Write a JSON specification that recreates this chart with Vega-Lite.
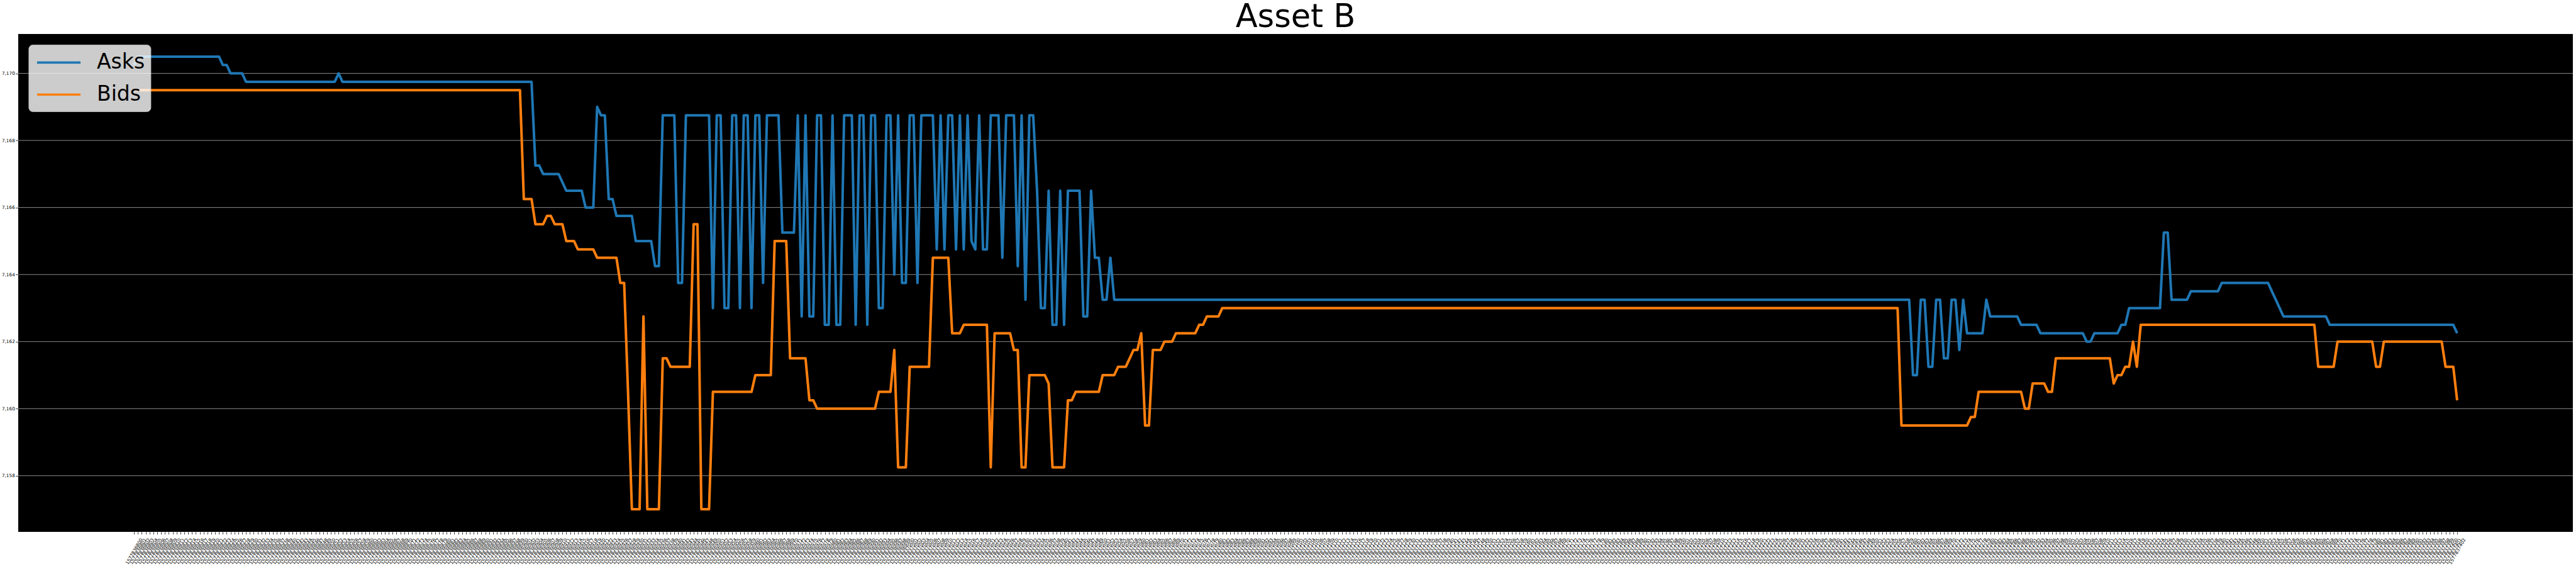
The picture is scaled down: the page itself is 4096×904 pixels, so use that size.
{
"$schema": "https://vega.github.io/schema/vega-lite/v6.json",
"width": 4062, "height": 791,
"autosize": {"type": "none"},
"padding": {"left": 29, "top": 54, "right": 5, "bottom": 59},
"background": "white",
"title": {"text": "Asset B", "fontSize": 51, "font": "DejaVu Sans", "fontWeight": "normal", "color": "black", "anchor": "middle", "frame": "group", "offset": 0},
"config": {"view": {"fill": "black", "stroke": null}},
"layer": [
{
"data": {"values": [{"g":7158},{"g":7160},{"g":7162},{"g":7164},{"g":7166},{"g":7168},{"g":7170}]},
"mark": {"type": "rule", "color": "#b0b0b0", "strokeWidth": 0.8},
"encoding": {"y": {"field": "g", "type": "quantitative", "scale": {"domain": [7156.325, 7171.175], "nice": false, "zero": false},
    "axis": {"title": null, "values": [7158, 7160, 7162, 7164, 7166, 7168, 7170], "grid": false, "domain": false, "tickColor": "black", "tickSize": 4.2, "tickWidth": 0.8, "labelFontSize": 7.3, "labelFont": "DejaVu Sans", "labelColor": "black", "labelPadding": 1.5}}}
},
{
"data": {"values": [
{"t":1577836800,"Asks":7170.25,"Bids":7169.5},
{"t":1577836801,"Asks":7170.5,"Bids":7169.5},{"t":1577836802,"Asks":7170.5,"Bids":7169.5},{"t":1577836803,"Asks":7170.5,"Bids":7169.5},{"t":1577836804,"Asks":7170.5,"Bids":7169.5},{"t":1577836805,"Asks":7170.5,"Bids":7169.5},{"t":1577836806,"Asks":7170.5,"Bids":7169.5},{"t":1577836807,"Asks":7170.5,"Bids":7169.5},{"t":1577836808,"Asks":7170.5,"Bids":7169.5},{"t":1577836809,"Asks":7170.5,"Bids":7169.5},{"t":1577836810,"Asks":7170.5,"Bids":7169.5},
{"t":1577836811,"Asks":7170.5,"Bids":7169.5},{"t":1577836812,"Asks":7170.5,"Bids":7169.5},{"t":1577836813,"Asks":7170.5,"Bids":7169.5},{"t":1577836814,"Asks":7170.5,"Bids":7169.5},{"t":1577836815,"Asks":7170.5,"Bids":7169.5},{"t":1577836816,"Asks":7170.5,"Bids":7169.5},{"t":1577836817,"Asks":7170.5,"Bids":7169.5},{"t":1577836818,"Asks":7170.5,"Bids":7169.5},{"t":1577836819,"Asks":7170.5,"Bids":7169.5},{"t":1577836820,"Asks":7170.5,"Bids":7169.5},
{"t":1577836821,"Asks":7170.5,"Bids":7169.5},{"t":1577836822,"Asks":7170.5,"Bids":7169.5},{"t":1577836823,"Asks":7170.25,"Bids":7169.5},{"t":1577836824,"Asks":7170.25,"Bids":7169.5},{"t":1577836825,"Asks":7170,"Bids":7169.5},{"t":1577836826,"Asks":7170,"Bids":7169.5},{"t":1577836827,"Asks":7170,"Bids":7169.5},{"t":1577836828,"Asks":7170,"Bids":7169.5},{"t":1577836829,"Asks":7169.75,"Bids":7169.5},{"t":1577836830,"Asks":7169.75,"Bids":7169.5},
{"t":1577836831,"Asks":7169.75,"Bids":7169.5},{"t":1577836832,"Asks":7169.75,"Bids":7169.5},{"t":1577836833,"Asks":7169.75,"Bids":7169.5},{"t":1577836834,"Asks":7169.75,"Bids":7169.5},{"t":1577836835,"Asks":7169.75,"Bids":7169.5},{"t":1577836836,"Asks":7169.75,"Bids":7169.5},{"t":1577836837,"Asks":7169.75,"Bids":7169.5},{"t":1577836838,"Asks":7169.75,"Bids":7169.5},{"t":1577836839,"Asks":7169.75,"Bids":7169.5},{"t":1577836840,"Asks":7169.75,"Bids":7169.5},
{"t":1577836841,"Asks":7169.75,"Bids":7169.5},{"t":1577836842,"Asks":7169.75,"Bids":7169.5},{"t":1577836843,"Asks":7169.75,"Bids":7169.5},{"t":1577836844,"Asks":7169.75,"Bids":7169.5},{"t":1577836845,"Asks":7169.75,"Bids":7169.5},{"t":1577836846,"Asks":7169.75,"Bids":7169.5},{"t":1577836847,"Asks":7169.75,"Bids":7169.5},{"t":1577836848,"Asks":7169.75,"Bids":7169.5},{"t":1577836849,"Asks":7169.75,"Bids":7169.5},{"t":1577836850,"Asks":7169.75,"Bids":7169.5},
{"t":1577836851,"Asks":7169.75,"Bids":7169.5},{"t":1577836852,"Asks":7169.75,"Bids":7169.5},{"t":1577836853,"Asks":7170,"Bids":7169.5},{"t":1577836854,"Asks":7169.75,"Bids":7169.5},{"t":1577836855,"Asks":7169.75,"Bids":7169.5},{"t":1577836856,"Asks":7169.75,"Bids":7169.5},{"t":1577836857,"Asks":7169.75,"Bids":7169.5},{"t":1577836858,"Asks":7169.75,"Bids":7169.5},{"t":1577836859,"Asks":7169.75,"Bids":7169.5},{"t":1577836860,"Asks":7169.75,"Bids":7169.5},
{"t":1577836861,"Asks":7169.75,"Bids":7169.5},{"t":1577836862,"Asks":7169.75,"Bids":7169.5},{"t":1577836863,"Asks":7169.75,"Bids":7169.5},{"t":1577836864,"Asks":7169.75,"Bids":7169.5},{"t":1577836865,"Asks":7169.75,"Bids":7169.5},{"t":1577836866,"Asks":7169.75,"Bids":7169.5},{"t":1577836867,"Asks":7169.75,"Bids":7169.5},{"t":1577836868,"Asks":7169.75,"Bids":7169.5},{"t":1577836869,"Asks":7169.75,"Bids":7169.5},{"t":1577836870,"Asks":7169.75,"Bids":7169.5},
{"t":1577836871,"Asks":7169.75,"Bids":7169.5},{"t":1577836872,"Asks":7169.75,"Bids":7169.5},{"t":1577836873,"Asks":7169.75,"Bids":7169.5},{"t":1577836874,"Asks":7169.75,"Bids":7169.5},{"t":1577836875,"Asks":7169.75,"Bids":7169.5},{"t":1577836876,"Asks":7169.75,"Bids":7169.5},{"t":1577836877,"Asks":7169.75,"Bids":7169.5},{"t":1577836878,"Asks":7169.75,"Bids":7169.5},{"t":1577836879,"Asks":7169.75,"Bids":7169.5},{"t":1577836880,"Asks":7169.75,"Bids":7169.5},
{"t":1577836881,"Asks":7169.75,"Bids":7169.5},{"t":1577836882,"Asks":7169.75,"Bids":7169.5},{"t":1577836883,"Asks":7169.75,"Bids":7169.5},{"t":1577836884,"Asks":7169.75,"Bids":7169.5},{"t":1577836885,"Asks":7169.75,"Bids":7169.5},{"t":1577836886,"Asks":7169.75,"Bids":7169.5},{"t":1577836887,"Asks":7169.75,"Bids":7169.5},{"t":1577836888,"Asks":7169.75,"Bids":7169.5},{"t":1577836889,"Asks":7169.75,"Bids":7169.5},{"t":1577836890,"Asks":7169.75,"Bids":7169.5},
{"t":1577836891,"Asks":7169.75,"Bids":7169.5},{"t":1577836892,"Asks":7169.75,"Bids":7169.5},{"t":1577836893,"Asks":7169.75,"Bids":7169.5},{"t":1577836894,"Asks":7169.75,"Bids":7169.5},{"t":1577836895,"Asks":7169.75,"Bids":7169.5},{"t":1577836896,"Asks":7169.75,"Bids":7169.5},{"t":1577836897,"Asks":7169.75,"Bids":7169.5},{"t":1577836898,"Asks":7169.75,"Bids":7169.5},{"t":1577836899,"Asks":7169.75,"Bids":7169.5},{"t":1577836900,"Asks":7169.75,"Bids":7169.5},
{"t":1577836901,"Asks":7169.75,"Bids":7166.25},{"t":1577836902,"Asks":7169.75,"Bids":7166.25},{"t":1577836903,"Asks":7169.75,"Bids":7166.25},{"t":1577836904,"Asks":7167.25,"Bids":7165.5},{"t":1577836905,"Asks":7167.25,"Bids":7165.5},{"t":1577836906,"Asks":7167,"Bids":7165.5},{"t":1577836907,"Asks":7167,"Bids":7165.75},{"t":1577836908,"Asks":7167,"Bids":7165.75},{"t":1577836909,"Asks":7167,"Bids":7165.5},{"t":1577836910,"Asks":7167,"Bids":7165.5},
{"t":1577836911,"Asks":7166.75,"Bids":7165.5},{"t":1577836912,"Asks":7166.5,"Bids":7165},{"t":1577836913,"Asks":7166.5,"Bids":7165},{"t":1577836914,"Asks":7166.5,"Bids":7165},{"t":1577836915,"Asks":7166.5,"Bids":7164.75},{"t":1577836916,"Asks":7166.5,"Bids":7164.75},{"t":1577836917,"Asks":7166,"Bids":7164.75},{"t":1577836918,"Asks":7166,"Bids":7164.75},{"t":1577836919,"Asks":7166,"Bids":7164.75},{"t":1577836920,"Asks":7169,"Bids":7164.5},
{"t":1577836921,"Asks":7168.75,"Bids":7164.5},{"t":1577836922,"Asks":7168.75,"Bids":7164.5},{"t":1577836923,"Asks":7166.25,"Bids":7164.5},{"t":1577836924,"Asks":7166.25,"Bids":7164.5},{"t":1577836925,"Asks":7165.75,"Bids":7164.5},{"t":1577836926,"Asks":7165.75,"Bids":7163.75},{"t":1577836927,"Asks":7165.75,"Bids":7163.75},{"t":1577836928,"Asks":7165.75,"Bids":7160.5},{"t":1577836929,"Asks":7165.75,"Bids":7157},{"t":1577836930,"Asks":7165,"Bids":7157},
{"t":1577836931,"Asks":7165,"Bids":7157},{"t":1577836932,"Asks":7165,"Bids":7162.75},{"t":1577836933,"Asks":7165,"Bids":7157},{"t":1577836934,"Asks":7165,"Bids":7157},{"t":1577836935,"Asks":7164.25,"Bids":7157},{"t":1577836936,"Asks":7164.25,"Bids":7157},{"t":1577836937,"Asks":7168.75,"Bids":7161.5},{"t":1577836938,"Asks":7168.75,"Bids":7161.5},{"t":1577836939,"Asks":7168.75,"Bids":7161.25},{"t":1577836940,"Asks":7168.75,"Bids":7161.25},
{"t":1577836941,"Asks":7163.75,"Bids":7161.25},{"t":1577836942,"Asks":7163.75,"Bids":7161.25},{"t":1577836943,"Asks":7168.75,"Bids":7161.25},{"t":1577836944,"Asks":7168.75,"Bids":7161.25},{"t":1577836945,"Asks":7168.75,"Bids":7165.5},{"t":1577836946,"Asks":7168.75,"Bids":7165.5},{"t":1577836947,"Asks":7168.75,"Bids":7157},{"t":1577836948,"Asks":7168.75,"Bids":7157},{"t":1577836949,"Asks":7168.75,"Bids":7157},{"t":1577836950,"Asks":7163,"Bids":7160.5},
{"t":1577836951,"Asks":7168.75,"Bids":7160.5},{"t":1577836952,"Asks":7168.75,"Bids":7160.5},{"t":1577836953,"Asks":7163,"Bids":7160.5},{"t":1577836954,"Asks":7163,"Bids":7160.5},{"t":1577836955,"Asks":7168.75,"Bids":7160.5},{"t":1577836956,"Asks":7168.75,"Bids":7160.5},{"t":1577836957,"Asks":7163,"Bids":7160.5},{"t":1577836958,"Asks":7168.75,"Bids":7160.5},{"t":1577836959,"Asks":7168.75,"Bids":7160.5},{"t":1577836960,"Asks":7163,"Bids":7160.5},
{"t":1577836961,"Asks":7168.75,"Bids":7161},{"t":1577836962,"Asks":7168.75,"Bids":7161},{"t":1577836963,"Asks":7163.75,"Bids":7161},{"t":1577836964,"Asks":7168.75,"Bids":7161},{"t":1577836965,"Asks":7168.75,"Bids":7161},{"t":1577836966,"Asks":7168.75,"Bids":7165},{"t":1577836967,"Asks":7168.75,"Bids":7165},{"t":1577836968,"Asks":7165.25,"Bids":7165},{"t":1577836969,"Asks":7165.25,"Bids":7165},{"t":1577836970,"Asks":7165.25,"Bids":7161.5},
{"t":1577836971,"Asks":7165.25,"Bids":7161.5},{"t":1577836972,"Asks":7168.75,"Bids":7161.5},{"t":1577836973,"Asks":7162.75,"Bids":7161.5},{"t":1577836974,"Asks":7168.75,"Bids":7161.5},{"t":1577836975,"Asks":7162.75,"Bids":7160.25},{"t":1577836976,"Asks":7162.75,"Bids":7160.25},{"t":1577836977,"Asks":7168.75,"Bids":7160},{"t":1577836978,"Asks":7168.75,"Bids":7160},{"t":1577836979,"Asks":7162.5,"Bids":7160},{"t":1577836980,"Asks":7162.5,"Bids":7160},
{"t":1577836981,"Asks":7168.75,"Bids":7160},{"t":1577836982,"Asks":7162.5,"Bids":7160},{"t":1577836983,"Asks":7162.5,"Bids":7160},{"t":1577836984,"Asks":7168.75,"Bids":7160},{"t":1577836985,"Asks":7168.75,"Bids":7160},{"t":1577836986,"Asks":7168.75,"Bids":7160},{"t":1577836987,"Asks":7162.5,"Bids":7160},{"t":1577836988,"Asks":7168.75,"Bids":7160},{"t":1577836989,"Asks":7168.75,"Bids":7160},{"t":1577836990,"Asks":7162.5,"Bids":7160},
{"t":1577836991,"Asks":7168.75,"Bids":7160},{"t":1577836992,"Asks":7168.75,"Bids":7160},{"t":1577836993,"Asks":7163,"Bids":7160.5},{"t":1577836994,"Asks":7163,"Bids":7160.5},{"t":1577836995,"Asks":7168.75,"Bids":7160.5},{"t":1577836996,"Asks":7168.75,"Bids":7160.5},{"t":1577836997,"Asks":7164,"Bids":7161.75},{"t":1577836998,"Asks":7168.75,"Bids":7158.25},{"t":1577836999,"Asks":7163.75,"Bids":7158.25},{"t":1577837000,"Asks":7163.75,"Bids":7158.25},
{"t":1577837001,"Asks":7168.75,"Bids":7161.25},{"t":1577837002,"Asks":7168.75,"Bids":7161.25},{"t":1577837003,"Asks":7163.75,"Bids":7161.25},{"t":1577837004,"Asks":7168.75,"Bids":7161.25},{"t":1577837005,"Asks":7168.75,"Bids":7161.25},{"t":1577837006,"Asks":7168.75,"Bids":7161.25},{"t":1577837007,"Asks":7168.75,"Bids":7164.5},{"t":1577837008,"Asks":7164.75,"Bids":7164.5},{"t":1577837009,"Asks":7168.75,"Bids":7164.5},{"t":1577837010,"Asks":7164.75,"Bids":7164.5},
{"t":1577837011,"Asks":7168.75,"Bids":7164.5},{"t":1577837012,"Asks":7168.75,"Bids":7162.25},{"t":1577837013,"Asks":7164.75,"Bids":7162.25},{"t":1577837014,"Asks":7168.75,"Bids":7162.25},{"t":1577837015,"Asks":7164.75,"Bids":7162.5},{"t":1577837016,"Asks":7168.75,"Bids":7162.5},{"t":1577837017,"Asks":7165,"Bids":7162.5},{"t":1577837018,"Asks":7164.75,"Bids":7162.5},{"t":1577837019,"Asks":7168.75,"Bids":7162.5},{"t":1577837020,"Asks":7164.75,"Bids":7162.5},
{"t":1577837021,"Asks":7164.75,"Bids":7162.5},{"t":1577837022,"Asks":7168.75,"Bids":7158.25},{"t":1577837023,"Asks":7168.75,"Bids":7162.25},{"t":1577837024,"Asks":7168.75,"Bids":7162.25},{"t":1577837025,"Asks":7164.5,"Bids":7162.25},{"t":1577837026,"Asks":7168.75,"Bids":7162.25},{"t":1577837027,"Asks":7168.75,"Bids":7162.25},{"t":1577837028,"Asks":7168.75,"Bids":7161.75},{"t":1577837029,"Asks":7164.25,"Bids":7161.75},{"t":1577837030,"Asks":7168.75,"Bids":7158.25},
{"t":1577837031,"Asks":7163.25,"Bids":7158.25},{"t":1577837032,"Asks":7168.75,"Bids":7161},{"t":1577837033,"Asks":7168.75,"Bids":7161},{"t":1577837034,"Asks":7166.5,"Bids":7161},{"t":1577837035,"Asks":7163,"Bids":7161},{"t":1577837036,"Asks":7163,"Bids":7161},{"t":1577837037,"Asks":7166.5,"Bids":7160.75},{"t":1577837038,"Asks":7162.5,"Bids":7158.25},{"t":1577837039,"Asks":7162.5,"Bids":7158.25},{"t":1577837040,"Asks":7166.5,"Bids":7158.25},
{"t":1577837041,"Asks":7162.5,"Bids":7158.25},{"t":1577837042,"Asks":7166.5,"Bids":7160.25},{"t":1577837043,"Asks":7166.5,"Bids":7160.25},{"t":1577837044,"Asks":7166.5,"Bids":7160.5},{"t":1577837045,"Asks":7166.5,"Bids":7160.5},{"t":1577837046,"Asks":7162.75,"Bids":7160.5},{"t":1577837047,"Asks":7162.75,"Bids":7160.5},{"t":1577837048,"Asks":7166.5,"Bids":7160.5},{"t":1577837049,"Asks":7164.5,"Bids":7160.5},{"t":1577837050,"Asks":7164.5,"Bids":7160.5},
{"t":1577837051,"Asks":7163.25,"Bids":7161},{"t":1577837052,"Asks":7163.25,"Bids":7161},{"t":1577837053,"Asks":7164.5,"Bids":7161},{"t":1577837054,"Asks":7163.25,"Bids":7161},{"t":1577837055,"Asks":7163.25,"Bids":7161.25},{"t":1577837056,"Asks":7163.25,"Bids":7161.25},{"t":1577837057,"Asks":7163.25,"Bids":7161.25},{"t":1577837058,"Asks":7163.25,"Bids":7161.5},{"t":1577837059,"Asks":7163.25,"Bids":7161.75},{"t":1577837060,"Asks":7163.25,"Bids":7161.75},
{"t":1577837061,"Asks":7163.25,"Bids":7162.25},{"t":1577837062,"Asks":7163.25,"Bids":7159.5},{"t":1577837063,"Asks":7163.25,"Bids":7159.5},{"t":1577837064,"Asks":7163.25,"Bids":7161.75},{"t":1577837065,"Asks":7163.25,"Bids":7161.75},{"t":1577837066,"Asks":7163.25,"Bids":7161.75},{"t":1577837067,"Asks":7163.25,"Bids":7162},{"t":1577837068,"Asks":7163.25,"Bids":7162},{"t":1577837069,"Asks":7163.25,"Bids":7162},{"t":1577837070,"Asks":7163.25,"Bids":7162.25},
{"t":1577837071,"Asks":7163.25,"Bids":7162.25},{"t":1577837072,"Asks":7163.25,"Bids":7162.25},{"t":1577837073,"Asks":7163.25,"Bids":7162.25},{"t":1577837074,"Asks":7163.25,"Bids":7162.25},{"t":1577837075,"Asks":7163.25,"Bids":7162.25},{"t":1577837076,"Asks":7163.25,"Bids":7162.5},{"t":1577837077,"Asks":7163.25,"Bids":7162.5},{"t":1577837078,"Asks":7163.25,"Bids":7162.75},{"t":1577837079,"Asks":7163.25,"Bids":7162.75},{"t":1577837080,"Asks":7163.25,"Bids":7162.75},
{"t":1577837081,"Asks":7163.25,"Bids":7162.75},{"t":1577837082,"Asks":7163.25,"Bids":7163},{"t":1577837083,"Asks":7163.25,"Bids":7163},{"t":1577837084,"Asks":7163.25,"Bids":7163},{"t":1577837085,"Asks":7163.25,"Bids":7163},{"t":1577837086,"Asks":7163.25,"Bids":7163},{"t":1577837087,"Asks":7163.25,"Bids":7163},{"t":1577837088,"Asks":7163.25,"Bids":7163},{"t":1577837089,"Asks":7163.25,"Bids":7163},{"t":1577837090,"Asks":7163.25,"Bids":7163},
{"t":1577837091,"Asks":7163.25,"Bids":7163},{"t":1577837092,"Asks":7163.25,"Bids":7163},{"t":1577837093,"Asks":7163.25,"Bids":7163},{"t":1577837094,"Asks":7163.25,"Bids":7163},{"t":1577837095,"Asks":7163.25,"Bids":7163},{"t":1577837096,"Asks":7163.25,"Bids":7163},{"t":1577837097,"Asks":7163.25,"Bids":7163},{"t":1577837098,"Asks":7163.25,"Bids":7163},{"t":1577837099,"Asks":7163.25,"Bids":7163},{"t":1577837100,"Asks":7163.25,"Bids":7163},
{"t":1577837101,"Asks":7163.25,"Bids":7163},{"t":1577837102,"Asks":7163.25,"Bids":7163},{"t":1577837103,"Asks":7163.25,"Bids":7163},{"t":1577837104,"Asks":7163.25,"Bids":7163},{"t":1577837105,"Asks":7163.25,"Bids":7163},{"t":1577837106,"Asks":7163.25,"Bids":7163},{"t":1577837107,"Asks":7163.25,"Bids":7163},{"t":1577837108,"Asks":7163.25,"Bids":7163},{"t":1577837109,"Asks":7163.25,"Bids":7163},{"t":1577837110,"Asks":7163.25,"Bids":7163},
{"t":1577837111,"Asks":7163.25,"Bids":7163},{"t":1577837112,"Asks":7163.25,"Bids":7163},{"t":1577837113,"Asks":7163.25,"Bids":7163},{"t":1577837114,"Asks":7163.25,"Bids":7163},{"t":1577837115,"Asks":7163.25,"Bids":7163},{"t":1577837116,"Asks":7163.25,"Bids":7163},{"t":1577837117,"Asks":7163.25,"Bids":7163},{"t":1577837118,"Asks":7163.25,"Bids":7163},{"t":1577837119,"Asks":7163.25,"Bids":7163},{"t":1577837120,"Asks":7163.25,"Bids":7163},
{"t":1577837121,"Asks":7163.25,"Bids":7163},{"t":1577837122,"Asks":7163.25,"Bids":7163},{"t":1577837123,"Asks":7163.25,"Bids":7163},{"t":1577837124,"Asks":7163.25,"Bids":7163},{"t":1577837125,"Asks":7163.25,"Bids":7163},{"t":1577837126,"Asks":7163.25,"Bids":7163},{"t":1577837127,"Asks":7163.25,"Bids":7163},{"t":1577837128,"Asks":7163.25,"Bids":7163},{"t":1577837129,"Asks":7163.25,"Bids":7163},{"t":1577837130,"Asks":7163.25,"Bids":7163},
{"t":1577837131,"Asks":7163.25,"Bids":7163},{"t":1577837132,"Asks":7163.25,"Bids":7163},{"t":1577837133,"Asks":7163.25,"Bids":7163},{"t":1577837134,"Asks":7163.25,"Bids":7163},{"t":1577837135,"Asks":7163.25,"Bids":7163},{"t":1577837136,"Asks":7163.25,"Bids":7163},{"t":1577837137,"Asks":7163.25,"Bids":7163},{"t":1577837138,"Asks":7163.25,"Bids":7163},{"t":1577837139,"Asks":7163.25,"Bids":7163},{"t":1577837140,"Asks":7163.25,"Bids":7163},
{"t":1577837141,"Asks":7163.25,"Bids":7163},{"t":1577837142,"Asks":7163.25,"Bids":7163},{"t":1577837143,"Asks":7163.25,"Bids":7163},{"t":1577837144,"Asks":7163.25,"Bids":7163},{"t":1577837145,"Asks":7163.25,"Bids":7163},{"t":1577837146,"Asks":7163.25,"Bids":7163},{"t":1577837147,"Asks":7163.25,"Bids":7163},{"t":1577837148,"Asks":7163.25,"Bids":7163},{"t":1577837149,"Asks":7163.25,"Bids":7163},{"t":1577837150,"Asks":7163.25,"Bids":7163},
{"t":1577837151,"Asks":7163.25,"Bids":7163},{"t":1577837152,"Asks":7163.25,"Bids":7163},{"t":1577837153,"Asks":7163.25,"Bids":7163},{"t":1577837154,"Asks":7163.25,"Bids":7163},{"t":1577837155,"Asks":7163.25,"Bids":7163},{"t":1577837156,"Asks":7163.25,"Bids":7163},{"t":1577837157,"Asks":7163.25,"Bids":7163},{"t":1577837158,"Asks":7163.25,"Bids":7163},{"t":1577837159,"Asks":7163.25,"Bids":7163},{"t":1577837160,"Asks":7163.25,"Bids":7163},
{"t":1577837161,"Asks":7163.25,"Bids":7163},{"t":1577837162,"Asks":7163.25,"Bids":7163},{"t":1577837163,"Asks":7163.25,"Bids":7163},{"t":1577837164,"Asks":7163.25,"Bids":7163},{"t":1577837165,"Asks":7163.25,"Bids":7163},{"t":1577837166,"Asks":7163.25,"Bids":7163},{"t":1577837167,"Asks":7163.25,"Bids":7163},{"t":1577837168,"Asks":7163.25,"Bids":7163},{"t":1577837169,"Asks":7163.25,"Bids":7163},{"t":1577837170,"Asks":7163.25,"Bids":7163},
{"t":1577837171,"Asks":7163.25,"Bids":7163},{"t":1577837172,"Asks":7163.25,"Bids":7163},{"t":1577837173,"Asks":7163.25,"Bids":7163},{"t":1577837174,"Asks":7163.25,"Bids":7163},{"t":1577837175,"Asks":7163.25,"Bids":7163},{"t":1577837176,"Asks":7163.25,"Bids":7163},{"t":1577837177,"Asks":7163.25,"Bids":7163},{"t":1577837178,"Asks":7163.25,"Bids":7163},{"t":1577837179,"Asks":7163.25,"Bids":7163},{"t":1577837180,"Asks":7163.25,"Bids":7163},
{"t":1577837181,"Asks":7163.25,"Bids":7163},{"t":1577837182,"Asks":7163.25,"Bids":7163},{"t":1577837183,"Asks":7163.25,"Bids":7163},{"t":1577837184,"Asks":7163.25,"Bids":7163},{"t":1577837185,"Asks":7163.25,"Bids":7163},{"t":1577837186,"Asks":7163.25,"Bids":7163},{"t":1577837187,"Asks":7163.25,"Bids":7163},{"t":1577837188,"Asks":7163.25,"Bids":7163},{"t":1577837189,"Asks":7163.25,"Bids":7163},{"t":1577837190,"Asks":7163.25,"Bids":7163},
{"t":1577837191,"Asks":7163.25,"Bids":7163},{"t":1577837192,"Asks":7163.25,"Bids":7163},{"t":1577837193,"Asks":7163.25,"Bids":7163},{"t":1577837194,"Asks":7163.25,"Bids":7163},{"t":1577837195,"Asks":7163.25,"Bids":7163},{"t":1577837196,"Asks":7163.25,"Bids":7163},{"t":1577837197,"Asks":7163.25,"Bids":7163},{"t":1577837198,"Asks":7163.25,"Bids":7163},{"t":1577837199,"Asks":7163.25,"Bids":7163},{"t":1577837200,"Asks":7163.25,"Bids":7163},
{"t":1577837201,"Asks":7163.25,"Bids":7163},{"t":1577837202,"Asks":7163.25,"Bids":7163},{"t":1577837203,"Asks":7163.25,"Bids":7163},{"t":1577837204,"Asks":7163.25,"Bids":7163},{"t":1577837205,"Asks":7163.25,"Bids":7163},{"t":1577837206,"Asks":7163.25,"Bids":7163},{"t":1577837207,"Asks":7163.25,"Bids":7163},{"t":1577837208,"Asks":7163.25,"Bids":7163},{"t":1577837209,"Asks":7163.25,"Bids":7163},{"t":1577837210,"Asks":7163.25,"Bids":7163},
{"t":1577837211,"Asks":7163.25,"Bids":7163},{"t":1577837212,"Asks":7163.25,"Bids":7163},{"t":1577837213,"Asks":7163.25,"Bids":7163},{"t":1577837214,"Asks":7163.25,"Bids":7163},{"t":1577837215,"Asks":7163.25,"Bids":7163},{"t":1577837216,"Asks":7163.25,"Bids":7163},{"t":1577837217,"Asks":7163.25,"Bids":7163},{"t":1577837218,"Asks":7163.25,"Bids":7163},{"t":1577837219,"Asks":7163.25,"Bids":7163},{"t":1577837220,"Asks":7163.25,"Bids":7163},
{"t":1577837221,"Asks":7163.25,"Bids":7163},{"t":1577837222,"Asks":7163.25,"Bids":7163},{"t":1577837223,"Asks":7163.25,"Bids":7163},{"t":1577837224,"Asks":7163.25,"Bids":7163},{"t":1577837225,"Asks":7163.25,"Bids":7163},{"t":1577837226,"Asks":7163.25,"Bids":7163},{"t":1577837227,"Asks":7163.25,"Bids":7163},{"t":1577837228,"Asks":7163.25,"Bids":7163},{"t":1577837229,"Asks":7163.25,"Bids":7163},{"t":1577837230,"Asks":7163.25,"Bids":7163},
{"t":1577837231,"Asks":7163.25,"Bids":7163},{"t":1577837232,"Asks":7163.25,"Bids":7163},{"t":1577837233,"Asks":7163.25,"Bids":7163},{"t":1577837234,"Asks":7163.25,"Bids":7163},{"t":1577837235,"Asks":7163.25,"Bids":7163},{"t":1577837236,"Asks":7163.25,"Bids":7163},{"t":1577837237,"Asks":7163.25,"Bids":7163},{"t":1577837238,"Asks":7163.25,"Bids":7163},{"t":1577837239,"Asks":7163.25,"Bids":7163},{"t":1577837240,"Asks":7163.25,"Bids":7163},
{"t":1577837241,"Asks":7163.25,"Bids":7163},{"t":1577837242,"Asks":7163.25,"Bids":7163},{"t":1577837243,"Asks":7163.25,"Bids":7163},{"t":1577837244,"Asks":7163.25,"Bids":7163},{"t":1577837245,"Asks":7163.25,"Bids":7163},{"t":1577837246,"Asks":7163.25,"Bids":7163},{"t":1577837247,"Asks":7163.25,"Bids":7163},{"t":1577837248,"Asks":7163.25,"Bids":7163},{"t":1577837249,"Asks":7163.25,"Bids":7163},{"t":1577837250,"Asks":7163.25,"Bids":7163},
{"t":1577837251,"Asks":7163.25,"Bids":7163},{"t":1577837252,"Asks":7163.25,"Bids":7163},{"t":1577837253,"Asks":7163.25,"Bids":7163},{"t":1577837254,"Asks":7163.25,"Bids":7163},{"t":1577837255,"Asks":7163.25,"Bids":7163},{"t":1577837256,"Asks":7163.25,"Bids":7163},{"t":1577837257,"Asks":7163.25,"Bids":7163},{"t":1577837258,"Asks":7163.25,"Bids":7159.5},{"t":1577837259,"Asks":7163.25,"Bids":7159.5},{"t":1577837260,"Asks":7163.25,"Bids":7159.5},
{"t":1577837261,"Asks":7161,"Bids":7159.5},{"t":1577837262,"Asks":7161,"Bids":7159.5},{"t":1577837263,"Asks":7163.25,"Bids":7159.5},{"t":1577837264,"Asks":7163.25,"Bids":7159.5},{"t":1577837265,"Asks":7161.25,"Bids":7159.5},{"t":1577837266,"Asks":7161.25,"Bids":7159.5},{"t":1577837267,"Asks":7163.25,"Bids":7159.5},{"t":1577837268,"Asks":7163.25,"Bids":7159.5},{"t":1577837269,"Asks":7161.5,"Bids":7159.5},{"t":1577837270,"Asks":7161.5,"Bids":7159.5},
{"t":1577837271,"Asks":7163.25,"Bids":7159.5},{"t":1577837272,"Asks":7163.25,"Bids":7159.5},{"t":1577837273,"Asks":7161.75,"Bids":7159.5},{"t":1577837274,"Asks":7163.25,"Bids":7159.5},{"t":1577837275,"Asks":7162.25,"Bids":7159.5},{"t":1577837276,"Asks":7162.25,"Bids":7159.75},{"t":1577837277,"Asks":7162.25,"Bids":7159.75},{"t":1577837278,"Asks":7162.25,"Bids":7160.5},{"t":1577837279,"Asks":7162.25,"Bids":7160.5},{"t":1577837280,"Asks":7163.25,"Bids":7160.5},
{"t":1577837281,"Asks":7162.75,"Bids":7160.5},{"t":1577837282,"Asks":7162.75,"Bids":7160.5},{"t":1577837283,"Asks":7162.75,"Bids":7160.5},{"t":1577837284,"Asks":7162.75,"Bids":7160.5},{"t":1577837285,"Asks":7162.75,"Bids":7160.5},{"t":1577837286,"Asks":7162.75,"Bids":7160.5},{"t":1577837287,"Asks":7162.75,"Bids":7160.5},{"t":1577837288,"Asks":7162.75,"Bids":7160.5},{"t":1577837289,"Asks":7162.5,"Bids":7160.5},{"t":1577837290,"Asks":7162.5,"Bids":7160},
{"t":1577837291,"Asks":7162.5,"Bids":7160},{"t":1577837292,"Asks":7162.5,"Bids":7160.75},{"t":1577837293,"Asks":7162.5,"Bids":7160.75},{"t":1577837294,"Asks":7162.25,"Bids":7160.75},{"t":1577837295,"Asks":7162.25,"Bids":7160.75},{"t":1577837296,"Asks":7162.25,"Bids":7160.5},{"t":1577837297,"Asks":7162.25,"Bids":7160.5},{"t":1577837298,"Asks":7162.25,"Bids":7161.5},{"t":1577837299,"Asks":7162.25,"Bids":7161.5},{"t":1577837300,"Asks":7162.25,"Bids":7161.5},
{"t":1577837301,"Asks":7162.25,"Bids":7161.5},{"t":1577837302,"Asks":7162.25,"Bids":7161.5},{"t":1577837303,"Asks":7162.25,"Bids":7161.5},{"t":1577837304,"Asks":7162.25,"Bids":7161.5},{"t":1577837305,"Asks":7162.25,"Bids":7161.5},{"t":1577837306,"Asks":7162,"Bids":7161.5},{"t":1577837307,"Asks":7162,"Bids":7161.5},{"t":1577837308,"Asks":7162.25,"Bids":7161.5},{"t":1577837309,"Asks":7162.25,"Bids":7161.5},{"t":1577837310,"Asks":7162.25,"Bids":7161.5},
{"t":1577837311,"Asks":7162.25,"Bids":7161.5},{"t":1577837312,"Asks":7162.25,"Bids":7161.5},{"t":1577837313,"Asks":7162.25,"Bids":7160.75},{"t":1577837314,"Asks":7162.25,"Bids":7161},{"t":1577837315,"Asks":7162.5,"Bids":7161},{"t":1577837316,"Asks":7162.5,"Bids":7161.25},{"t":1577837317,"Asks":7163,"Bids":7161.25},{"t":1577837318,"Asks":7163,"Bids":7162},{"t":1577837319,"Asks":7163,"Bids":7161.25},{"t":1577837320,"Asks":7163,"Bids":7162.5},
{"t":1577837321,"Asks":7163,"Bids":7162.5},{"t":1577837322,"Asks":7163,"Bids":7162.5},{"t":1577837323,"Asks":7163,"Bids":7162.5},{"t":1577837324,"Asks":7163,"Bids":7162.5},{"t":1577837325,"Asks":7163,"Bids":7162.5},{"t":1577837326,"Asks":7165.25,"Bids":7162.5},{"t":1577837327,"Asks":7165.25,"Bids":7162.5},{"t":1577837328,"Asks":7163.25,"Bids":7162.5},{"t":1577837329,"Asks":7163.25,"Bids":7162.5},{"t":1577837330,"Asks":7163.25,"Bids":7162.5},
{"t":1577837331,"Asks":7163.25,"Bids":7162.5},{"t":1577837332,"Asks":7163.25,"Bids":7162.5},{"t":1577837333,"Asks":7163.5,"Bids":7162.5},{"t":1577837334,"Asks":7163.5,"Bids":7162.5},{"t":1577837335,"Asks":7163.5,"Bids":7162.5},{"t":1577837336,"Asks":7163.5,"Bids":7162.5},{"t":1577837337,"Asks":7163.5,"Bids":7162.5},{"t":1577837338,"Asks":7163.5,"Bids":7162.5},{"t":1577837339,"Asks":7163.5,"Bids":7162.5},{"t":1577837340,"Asks":7163.5,"Bids":7162.5},
{"t":1577837341,"Asks":7163.75,"Bids":7162.5},{"t":1577837342,"Asks":7163.75,"Bids":7162.5},{"t":1577837343,"Asks":7163.75,"Bids":7162.5},{"t":1577837344,"Asks":7163.75,"Bids":7162.5},{"t":1577837345,"Asks":7163.75,"Bids":7162.5},{"t":1577837346,"Asks":7163.75,"Bids":7162.5},{"t":1577837347,"Asks":7163.75,"Bids":7162.5},{"t":1577837348,"Asks":7163.75,"Bids":7162.5},{"t":1577837349,"Asks":7163.75,"Bids":7162.5},{"t":1577837350,"Asks":7163.75,"Bids":7162.5},
{"t":1577837351,"Asks":7163.75,"Bids":7162.5},{"t":1577837352,"Asks":7163.75,"Bids":7162.5},{"t":1577837353,"Asks":7163.75,"Bids":7162.5},{"t":1577837354,"Asks":7163.5,"Bids":7162.5},{"t":1577837355,"Asks":7163.25,"Bids":7162.5},{"t":1577837356,"Asks":7163,"Bids":7162.5},{"t":1577837357,"Asks":7162.75,"Bids":7162.5},{"t":1577837358,"Asks":7162.75,"Bids":7162.5},{"t":1577837359,"Asks":7162.75,"Bids":7162.5},{"t":1577837360,"Asks":7162.75,"Bids":7162.5},
{"t":1577837361,"Asks":7162.75,"Bids":7162.5},{"t":1577837362,"Asks":7162.75,"Bids":7162.5},{"t":1577837363,"Asks":7162.75,"Bids":7162.5},{"t":1577837364,"Asks":7162.75,"Bids":7162.5},{"t":1577837365,"Asks":7162.75,"Bids":7162.5},{"t":1577837366,"Asks":7162.75,"Bids":7161.25},{"t":1577837367,"Asks":7162.75,"Bids":7161.25},{"t":1577837368,"Asks":7162.75,"Bids":7161.25},{"t":1577837369,"Asks":7162.5,"Bids":7161.25},{"t":1577837370,"Asks":7162.5,"Bids":7161.25},
{"t":1577837371,"Asks":7162.5,"Bids":7162},{"t":1577837372,"Asks":7162.5,"Bids":7162},{"t":1577837373,"Asks":7162.5,"Bids":7162},{"t":1577837374,"Asks":7162.5,"Bids":7162},{"t":1577837375,"Asks":7162.5,"Bids":7162},{"t":1577837376,"Asks":7162.5,"Bids":7162},{"t":1577837377,"Asks":7162.5,"Bids":7162},{"t":1577837378,"Asks":7162.5,"Bids":7162},{"t":1577837379,"Asks":7162.5,"Bids":7162},{"t":1577837380,"Asks":7162.5,"Bids":7162},
{"t":1577837381,"Asks":7162.5,"Bids":7161.25},{"t":1577837382,"Asks":7162.5,"Bids":7161.25},{"t":1577837383,"Asks":7162.5,"Bids":7162},{"t":1577837384,"Asks":7162.5,"Bids":7162},{"t":1577837385,"Asks":7162.5,"Bids":7162},{"t":1577837386,"Asks":7162.5,"Bids":7162},{"t":1577837387,"Asks":7162.5,"Bids":7162},{"t":1577837388,"Asks":7162.5,"Bids":7162},{"t":1577837389,"Asks":7162.5,"Bids":7162},{"t":1577837390,"Asks":7162.5,"Bids":7162},
{"t":1577837391,"Asks":7162.5,"Bids":7162},{"t":1577837392,"Asks":7162.5,"Bids":7162},{"t":1577837393,"Asks":7162.5,"Bids":7162},{"t":1577837394,"Asks":7162.5,"Bids":7162},{"t":1577837395,"Asks":7162.5,"Bids":7162},{"t":1577837396,"Asks":7162.5,"Bids":7162},{"t":1577837397,"Asks":7162.5,"Bids":7162},{"t":1577837398,"Asks":7162.5,"Bids":7162},{"t":1577837399,"Asks":7162.5,"Bids":7161.25},{"t":1577837400,"Asks":7162.5,"Bids":7161.25},
{"t":1577837401,"Asks":7162.5,"Bids":7161.25},{"t":1577837402,"Asks":7162.25,"Bids":7160.25}
]},
"transform": [{"fold": ["Asks", "Bids"], "as": ["side", "price"]}],
"mark": {"type": "line", "strokeWidth": 4, "strokeJoin": "round"},
"encoding": {
  "x": {"field": "t", "type": "ordinal", "scale": {"type": "point", "range": [184.2, 3878], "padding": 0},
    "axis": {"title": null, "grid": false, "domain": false, "ticks": true, "tickColor": "black", "tickSize": 3.6, "tickWidth": 0.8,
      "labelAngle": -60, "labelAlign": "center", "labelBaseline": "middle", "labelPadding": 27, "labelFontSize": 7.3, "labelFont": "DejaVu Sans", "labelColor": "black", "labelOverlap": false, "labelBound": false, "labelFlush": false, "labelLimit": 0}},
  "y": {"field": "price", "type": "quantitative", "scale": {"domain": [7156.325, 7171.175], "nice": false, "zero": false},
    "axis": {"title": null, "values": [7158, 7160, 7162, 7164, 7166, 7168, 7170], "grid": false, "domain": false, "tickColor": "black", "tickSize": 4.2, "tickWidth": 0.8, "labelFontSize": 7.3, "labelFont": "DejaVu Sans", "labelColor": "black", "labelPadding": 1.5}},
  "color": {"field": "side", "type": "nominal", "scale": {"domain": ["Asks", "Bids"], "range": ["#1f77b4", "#ff7f0e"]},
    "legend": {"title": null, "orient": "none", "legendX": 16.4, "legendY": 16.9, "symbolType": "M-2,0H2", "symbolSize": 1194, "symbolOffset": 19.6, "symbolStrokeWidth": 3.6, "symbolFillColor": "transparent", "labelFontSize": 33, "labelFont": "DejaVu Sans", "labelColor": "black", "labelOffset": 41, "padding": 9, "rowPadding": 13.8, "fillColor": "rgba(255,255,255,0.8)", "strokeColor": "rgba(204,204,204,0.8)", "cornerRadius": 6.5}}
}
}
]
}
